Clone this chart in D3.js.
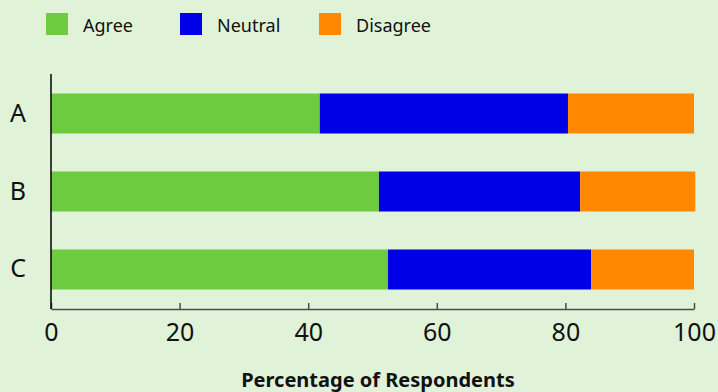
<!DOCTYPE html>
<html>
<head>
<meta charset="utf-8">
<script src="https://cdn.jsdelivr.net/npm/d3@7"></script>
<style>
  html, body { margin: 0; padding: 0; background: #e0f3d9; }
  svg { display: block; font-family: 'Noto Sans', sans-serif; }
</style>
</head>
<body>
<div id="chart"></div>
<script>
// data
var groups = ['A', 'B', 'C'];
var seriesNames = ['Agree', 'Neutral', 'Disagree'];
var agree = [41.8, 51.0, 52.4];
var neutral = [38.6, 31.3, 31.6];
var disagree = [19.6, 17.9, 16.0];
var xTicks = [0, 20, 40, 60, 80, 100];

var colors = ['#6ccb3f', '#0000e6', '#ff8800'];

var W = 718, H = 392;
var plotL = 51, plotR = 694, plotT = 74, plotB = 309;

var svg = d3.select('#chart')
  .append('svg')
  .attr('width', W)
  .attr('height', H);

svg.append('rect')
  .attr('width', W)
  .attr('height', H)
  .style('fill', '#e0f3d9');

var rows = groups.map(function(g, i){
  return { group: g, Agree: agree[i], Neutral: neutral[i], Disagree: disagree[i] };
});
var stacked = d3.stack().keys(seriesNames)(rows);

var x = d3.scaleLinear().domain([0, 100]).range([plotL, plotR]);
var y = d3.scaleBand().domain(groups).range([plotT, plotB])
  .paddingInner(0.487).paddingOuter(0.25);

// bars
svg.selectAll('g.series')
  .data(stacked)
  .enter().append('g')
  .attr('class', 'series')
  .style('fill', function(d, i){ return colors[i]; })
  .selectAll('rect')
  .data(function(d){ return d; })
  .enter().append('rect')
  .attr('x', function(d){ return x(d[0]); })
  .attr('width', function(d){ return x(d[1]) - x(d[0]); })
  .attr('y', function(d){ return y(d.data.group); })
  .attr('height', y.bandwidth());

// x axis, ticks pointing up
var xAxis = svg.append('g')
  .attr('transform', 'translate(0,' + plotB + ')')
  .call(d3.axisBottom(x).tickValues(xTicks).tickSizeInner(-6).tickSizeOuter(0).tickPadding(14));
xAxis.select('.domain').style('stroke', '#4a4a4a').style('stroke-width', 1.5);
xAxis.selectAll('.tick line').style('stroke', '#4a4a4a').style('stroke-width', 1.5);
xAxis.selectAll('text')
  .style('font-size', '25px')
  .style('font-family', 'Noto Sans')
  .style('fill', '#111');

// y axis
var yAxis = svg.append('g')
  .attr('transform', 'translate(' + plotL + ',0)')
  .call(d3.axisLeft(y).tickSize(0).tickPadding(25));
yAxis.select('.domain').remove();
yAxis.selectAll('text')
  .style('font-size', '25px')
  .style('font-family', 'Noto Sans')
  .style('fill', '#111');
svg.append('line')
  .attr('x1', plotL).attr('x2', plotL)
  .attr('y1', plotT).attr('y2', plotB)
  .style('stroke', '#000')
  .style('stroke-width', 1.5);

// axis title
svg.append('text')
  .text('Percentage of Respondents')
  .attr('x', 378)
  .attr('y', 387)
  .attr('text-anchor', 'middle')
  .style('font-size', '20px')
  .style('font-weight', 'bold')
  .style('fill', '#111');

// legend
var legendX = [46, 180, 319];
var legend = svg.selectAll('g.legend')
  .data(seriesNames)
  .enter().append('g')
  .attr('class', 'legend')
  .attr('transform', function(d, i){ return 'translate(' + legendX[i] + ',13)'; });
legend.append('rect')
  .attr('width', 22)
  .attr('height', 22)
  .style('fill', function(d, i){ return colors[i]; });
legend.append('text')
  .text(function(d){ return d; })
  .attr('x', 37)
  .attr('y', 19)
  .style('font-size', '18px')
  .style('fill', '#111');
</script>
</body>
</html>
